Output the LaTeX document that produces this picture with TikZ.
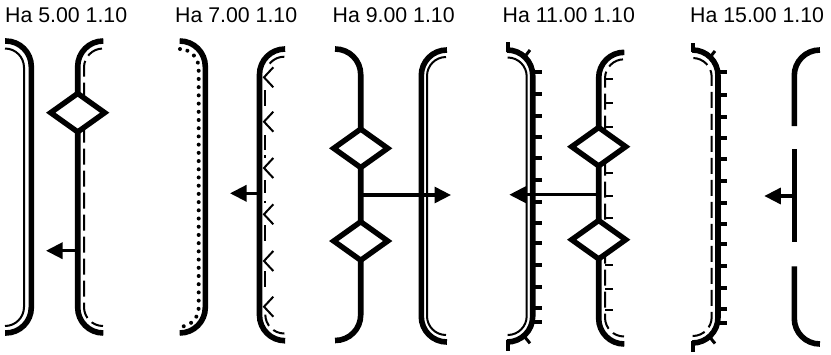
\documentclass[tikz,border=0pt]{standalone}
\usepackage{fontspec}
\setmainfont{Liberation Sans}
\usetikzlibrary{shapes.geometric,arrows.meta}
\tikzset{
  wall/.style={line width=5.6pt,rounded corners=25.5pt},
  innerline/.style={line width=2pt,rounded corners=19pt},
  dashinner/.style={innerline,dash pattern=on 16pt off 6pt,dash phase=21pt},
  dotinner/.style={innerline,line width=4pt,line cap=round,dash pattern=on 0.01pt off 8.2pt},
  valve/.style={diamond,draw,fill=white,line width=5.4pt,inner sep=0pt,outer sep=0pt,aspect=1.4,minimum width=54pt,minimum height=38.5pt},
  flow/.style={line width=3.2pt,-{Triangle[length=16.5pt,width=16pt]}},
  toplabel/.style={anchor=base west,inner sep=0pt,font=\fontsize{21.3}{25}\selectfont},
  bigtick/.style={line width=4pt},
  smalltick/.style={line width=2pt},
  chev/.style={line width=2pt,miter limit=10}
}
\begin{document}
\begin{tikzpicture}[x=1pt,y=-1pt]
\useasboundingbox (0,0) rectangle (831,354);
\node[toplabel] (t1) at (5,22.7) {Ha 5.00 1.10};
\node[toplabel] (t2) at (175,22.7) {Ha 7.00 1.10};
\node[toplabel] (t3) at (332.5,22.7) {Ha 9.00 1.10};
\node[toplabel] (t4) at (502.5,22.7) {Ha 11.00 1.10};
\node[toplabel] (t5) at (690,22.7) {Ha 15.00 1.10};

% panel 1
\draw[wall] (5,41) -- (31.3,41) -- (31.3,333) -- (5,333);
\draw[innerline] (5,48.5) -- (24,48.5) -- (24,326) -- (5,326);
\draw[dashinner] (103,48.5) -- (84,48.5) -- (84,326) -- (103,326);
\draw[wall] (103,41) -- (77.7,41) -- (77.7,333) -- (103,333);
\node[valve] (v1) at (77.7,112.7) {};
\coordinate (a1s) at (77.7,250.7);
\coordinate (a1e) at (46,250.7);
\draw[flow] (a1s) -- (a1e);

% panel 2
\draw[wall] (180,41) -- (205.3,41) -- (205.3,333) -- (180,333);
\draw[dotinner] (180,49) -- (198.7,49) -- (198.7,326.7) -- (180,326.7);
\draw[wall] (284,49) -- (259.5,49) -- (259.5,340.7) -- (284,340.7);
\draw[innerline,dash pattern=on 17pt off 400pt] (284,56.7) -- (265.3,56.7) -- (265.3,100);
\draw[innerline,dash pattern=on 12pt off 6pt on 12pt off 400pt] (284,333.5) -- (265.3,333.5) -- (265.3,300);
\foreach \a/\b in {90/106,135/150,155/157.5,180/193,200.5/203,225/241,271/287}
  \draw[smalltick] (265.3,\a) -- (265.3,\b);
\foreach \y in {77.3,121.7,168,214.3,261,306.7}
  \draw[chev] (273.3,\y-10) -- (264,\y) -- (273.3,\y+10);
\coordinate (a2s) at (259.5,193.3);
\coordinate (a2e) at (230,193.3);
\draw[flow] (a2s) -- (a2e);

% panel 3
\draw[wall] (335.3,49) -- (360.7,49) -- (360.7,340.5) -- (335.3,340.5);
\draw[wall] (446,50) -- (421.3,50) -- (421.3,342) -- (446,342);
\draw[innerline] (446,57) -- (427,57) -- (427,335) -- (446,335);
\node[valve] (v2) at (360.7,148.3) {};
\node[valve] (v3) at (360.7,241) {};
\coordinate (a3s) at (360.7,195);
\coordinate (a3e) at (451,195);
\draw[flow] (a3s) -- (a3e);

% panel 4
\draw[wall] (507.3,50) -- (532.7,50) -- (532.7,342) -- (507.3,342);
\draw[innerline] (508,57.5) -- (526.7,57.5) -- (526.7,335) -- (508,335);
\draw[bigtick] (507.5,42) -- (507.5,52);
\draw[bigtick] (507.5,340) -- (507.5,351);
\draw[bigtick,line width=3pt] (525.7,55.5) -- (530,50);
\draw[bigtick,line width=3pt] (525,337.3) -- (530,343.3);
\foreach \y in {72.3,94.3,116,137,158,180,201.7,222.7,243,265,287,308,322.3}
  \draw[bigtick] (532.7,\y) -- (541.7,\y);
\draw[wall] (624,52.3) -- (598.7,52.3) -- (598.7,344) -- (624,344);
\draw[dashinner] (624,59.3) -- (605,59.3) -- (605,336.5) -- (624,336.5);
\foreach \y in {79,103.3,126.7,172.7,195.7,218,264.7,289,309.7}
  \draw[smalltick] (605,\y) -- (612.7,\y);
\node[valve] (v4) at (598.7,146.7) {};
\node[valve] (v5) at (598.7,239.7) {};
\coordinate (a4s) at (598.7,194.7);
\coordinate (a4e) at (509.3,194.7);
\draw[flow] (a4s) -- (a4e);

% panel 5
\draw[wall] (692.7,50) -- (718,50) -- (718,343) -- (692.7,343);
\draw[dashinner] (693,58) -- (711.7,58) -- (711.7,336) -- (693,336);
\draw[bigtick] (692.7,43) -- (692.7,52);
\draw[bigtick] (692.7,341) -- (692.7,352);
\draw[bigtick,line width=3pt] (711,56) -- (715,51);
\draw[bigtick,line width=3pt] (710.5,338) -- (715,343.5);
\foreach \y in {72.3,95,116.7,137.7,158.7,180.7,203,223.7,244,265.7,288,309,323.3}
  \draw[bigtick] (718,\y) -- (726.7,\y);
\draw[wall] (819.7,50) -- (794.3,50) -- (794.3,126);
\draw[wall] (794.3,149.3) -- (794.3,242.3);
\draw[wall] (794.3,266.3) -- (794.3,344) -- (819.7,344);
\coordinate (a5s) at (794.3,196);
\coordinate (a5e) at (764.3,196);
\draw[flow] (a5s) -- (a5e);
\end{tikzpicture}
\end{document}
